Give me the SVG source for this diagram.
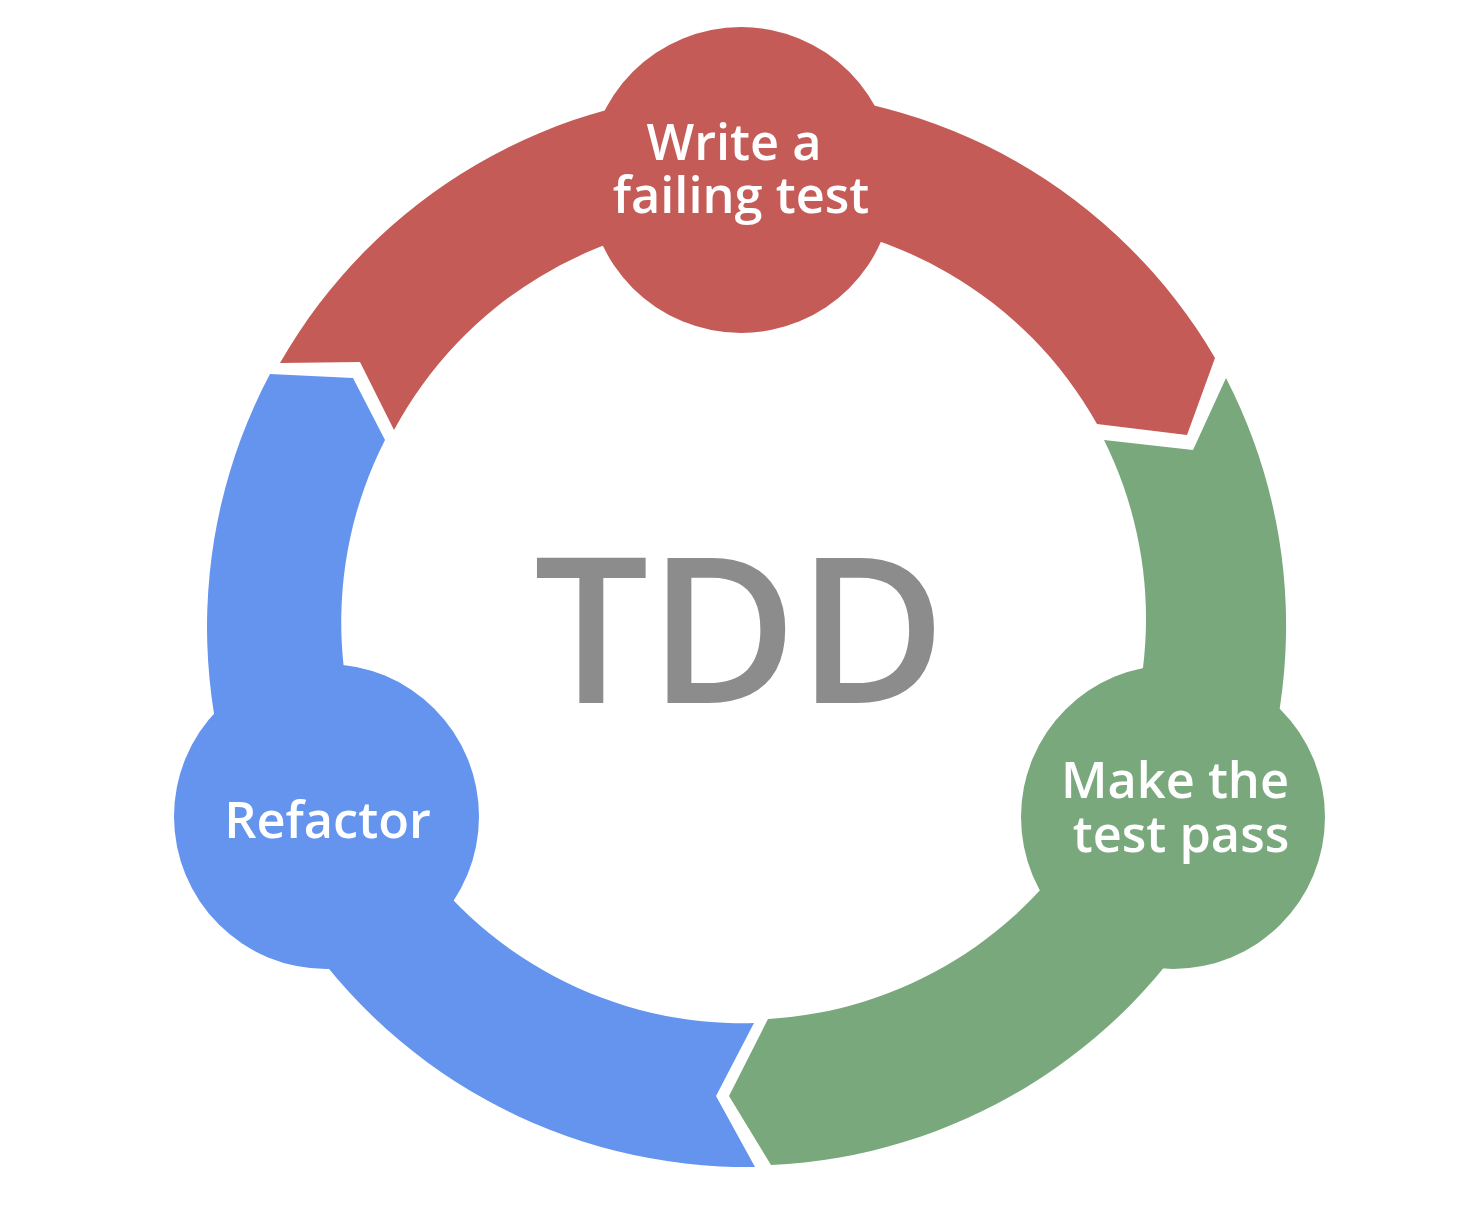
<svg xmlns="http://www.w3.org/2000/svg" width="1474" height="1214" viewBox="0 0 1474 1214">
  <style>
    .red { fill: #C55B57; }
    .green { fill: #79A87C; }
    .blue { fill: #6494EE; }
    .label { font-family: "Open Sans", "Noto Sans", "Liberation Sans", sans-serif; font-weight: 600; font-size: 50.5px; fill: #FFFFFF; text-anchor: middle; }
    .title { font-family: "Open Sans", "Noto Sans", "Liberation Sans", sans-serif; font-weight: 600; font-size: 203px; fill: #8C8C8C; text-anchor: middle; }
  </style>
  <rect x="0" y="0" width="1474" height="1214" fill="#FFFFFF"/>
  <g id="connectors">
    <path id="arc-red" class="red" d="M 280 363 A 540 540 0 0 1 1215 358 L 1187 435 L 1097 424 A 401 401 0 0 0 394 430 L 360 362 Z"/>
    <path id="arc-green" class="green" d="M 1226 378 A 540 540 0 0 1 771 1165 L 729 1096 L 768 1019 A 401 401 0 0 0 1104 440 L 1193 450 Z"/>
    <path id="arc-blue" class="blue" d="M 755 1167 A 540 540 0 0 1 270 374 L 353 378 L 385 440 A 401 401 0 0 0 754 1023 L 716 1096 Z"/>
  </g>
  <g id="node-write">
    <circle class="red" cx="741" cy="180" r="153"/>
    <text class="label"><tspan x="734" y="160">Write a</tspan><tspan x="741" y="213">failing test</tspan></text>
  </g>
  <g id="node-pass">
    <circle class="green" cx="1173" cy="817" r="152"/>
    <text class="label"><tspan x="1175" y="798">Make the</tspan><tspan x="1181" y="852">test pass</tspan></text>
  </g>
  <g id="node-refactor">
    <circle class="blue" cx="326.5" cy="816.5" r="152.5"/>
    <text class="label" x="327.5" y="838">Refactor</text>
  </g>
  <g id="center-label">
    <text class="title" x="740" y="703">TDD</text>
  </g>
</svg>
